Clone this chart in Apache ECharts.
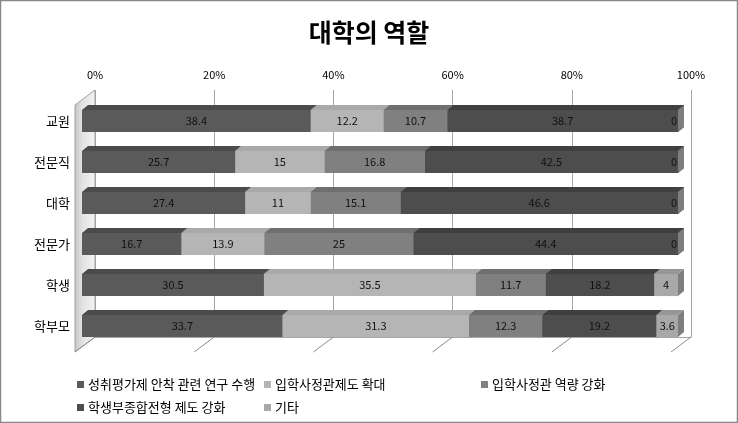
<!DOCTYPE html>
<html>
<head>
<meta charset="utf-8">
<script src="https://cdn.jsdelivr.net/npm/echarts@6/dist/echarts.min.js"></script>
<style>
html,body{margin:0;padding:0;background:#fff;}
#c{width:738px;height:423px;}
</style>
</head>
<body>
<div id="c"></div>
<script>
const categories = ['교원', '전문직', '대학', '전문가', '학생', '학부모'];
const seriesNames = ['성취평가제 안착 관련 연구 수행', '입학사정관제도 확대', '입학사정관 역량 강화', '학생부종합전형 제도 강화', '기타'];
const s1 = [38.4, 25.7, 27.4, 16.7, 30.5, 33.7];
const s2 = [12.2, 15, 11, 13.9, 35.5, 31.3];
const s3 = [10.7, 16.8, 15.1, 25, 11.7, 12.3];
const s4 = [38.7, 42.5, 46.6, 44.4, 18.2, 19.2];
const s5 = [0, 0, 0, 0, 4, 3.6];
const percentTicks = [0, 20, 40, 60, 80, 100];

const allSeries = [s1, s2, s3, s4, s5];
const faceColors = [
  {front: '#5a5a5a', top: '#4b4b4b', side: '#404040'},
  {front: '#b5b5b5', top: '#a9a9a9', side: '#909090'},
  {front: '#808080', top: '#6f6f6f', side: '#5f5f5f'},
  {front: '#4d4d4d', top: '#3f3f3f', side: '#343434'},
  {front: '#a8a8a8', top: '#969696', side: '#7e7e7e'}
];
const FONT = '"Noto Sans CJK KR", "Noto Sans", sans-serif';

// 100% stacking
const totals = categories.map((_, i) => allSeries.reduce((a, s) => a + s[i], 0));
function stackedData(k) {
  return categories.map((_, i) => {
    let start = 0;
    for (let j = 0; j < k; j++) start += allSeries[j][i];
    const v = allSeries[k][i];
    return [i, start / totals[i] * 100, (start + v) / totals[i] * 100, v];
  });
}

function barRender(k) {
  const c = faceColors[k];
  return function (params, api) {
    const cat = api.value(0), s = api.value(1), e = api.value(2), raw = api.value(3);
    const p0 = api.coord([s, cat]);
    const p1 = api.coord([e, cat]);
    const bh = api.size([0, 1])[1] * 0.54;
    const yT = p0[1] - bh / 2, yB = p0[1] + bh / 2;
    const x0 = p0[0], x1 = p1[0];
    const dx = 6, dy = 5;
    const lx = raw === 0 ? x1 - 4 : (x0 + x1) / 2;
    return {
      type: 'group',
      children: [
        {type: 'polygon', z2: 0, shape: {points: [[x1, yT], [x1 + dx, yT - dy], [x1 + dx, yB - dy], [x1, yB]]}, style: {fill: c.side}},
        {type: 'polygon', z2: 1, shape: {points: [[x0, yT], [x0 + dx, yT - dy], [x1 + dx, yT - dy], [x1, yT]]}, style: {fill: c.top}},
        {type: 'rect', z2: 2, shape: {x: x0, y: yT, width: Math.max(0, x1 - x0), height: bh}, style: {fill: c.front}},
        {type: 'text', z2: 3, style: {text: String(raw), x: lx, y: p0[1], align: 'center', verticalAlign: 'middle', fill: '#111', font: '11px ' + FONT}}
      ]
    };
  };
}

function wallRender(params, api) {
  const v = api.value(0);
  const b = api.coord([v, 0]);
  const t = api.coord([v, 1]);
  const dx = -20, dy = 15;
  const children = [];
  if (v === 0) {
    children.push({type: 'polygon', shape: {points: [[t[0], t[1]], [b[0], b[1]], [b[0] + dx, b[1] + dy], [t[0] + dx, t[1] + dy]]},
      style: {fill: {type: 'linear', x: 0, y: 0, x2: 1, y2: 0, colorStops: [{offset: 0, color: '#c4c4c4'}, {offset: 0.4, color: '#e4e4e4'}, {offset: 1, color: '#f2f2f2'}]}, stroke: '#a0a0a0', lineWidth: 1}});
  }
  children.push({type: 'line', shape: {x1: b[0], y1: b[1], x2: b[0] + dx, y2: b[1] + dy}, style: {stroke: '#8c8c8c', lineWidth: 1}});
  return {type: 'group', children: children};
}

const legendPos = [[72, 373], [259, 373], [476, 373], [72, 396], [259, 396]];

const series = [{
  type: 'custom', name: 'walls', xAxisIndex: 0, yAxisIndex: 0, silent: true, z: 1,
  data: percentTicks.map(v => [v]), renderItem: wallRender, encode: {x: 0}
}];
allSeries.forEach((_, k) => {
  series.push({
    type: 'custom', name: seriesNames[k], xAxisIndex: 1, yAxisIndex: 1, z: 3,
    itemStyle: {color: faceColors[k].front},
    data: stackedData(k), renderItem: barRender(k),
    encode: {x: [1, 2], y: 0}
  });
});

const option = {
  animation: false,
  backgroundColor: '#fff',
  title: {
    text: '대학의 역할', left: 'center', top: 15,
    textStyle: {fontFamily: FONT, fontSize: 25, fontWeight: 'bold', color: '#000'}
  },
  legend: legendPos.map((p, k) => ({
    data: [seriesNames[k]], left: p[0], top: p[1], icon: 'rect', itemWidth: 7, itemHeight: 7, itemGap: 4,
    textStyle: {fontFamily: FONT, fontSize: 13, color: '#000', padding: [0, 0, 0, -1]}, selectedMode: false
  })),
  grid: [
    {left: 95, right: 47, top: 90, bottom: 86},
    {left: 82, right: 60, top: 100.5, bottom: 76.5}
  ],
  xAxis: [
    {gridIndex: 0, type: 'value', min: 0, max: 100, interval: 20, position: 'top',
      axisLine: {show: true, lineStyle: {color: '#a6a6a6'}}, axisTick: {show: false},
      axisLabel: {formatter: '{value}%', margin: 10, fontFamily: FONT, fontSize: 11, color: '#000'},
      splitLine: {show: true, lineStyle: {color: '#a6a6a6', width: 1}}},
    {gridIndex: 1, type: 'value', min: 0, max: 100, show: false}
  ],
  yAxis: [
    {gridIndex: 0, type: 'value', min: 0, max: 1, show: false},
    {gridIndex: 1, type: 'category', data: categories, inverse: true,
      axisLine: {show: false}, axisTick: {show: false},
      axisLabel: {margin: 12, fontFamily: FONT, fontSize: 13, color: '#000', padding: [14, 0, 0, 0]},
      splitLine: {show: false}}
  ],
  graphic: [{type: 'rect', shape: {x: 0.5, y: 0.5, width: 737, height: 422}, style: {fill: 'none', stroke: '#888', lineWidth: 1.5}, silent: true, z: 100}],
  series: series
};

const chart = echarts.init(document.getElementById('c'));
chart.setOption(option);
</script>
</body>
</html>
